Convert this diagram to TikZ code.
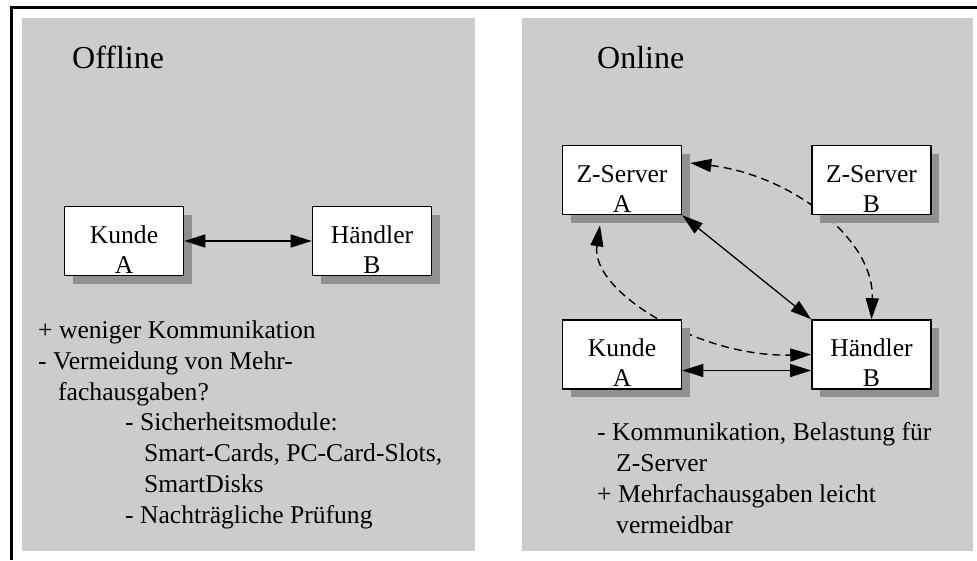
\documentclass[tikz,border=0pt]{standalone}
\usepackage{fontspec}
\setmainfont{Liberation Serif}
\usetikzlibrary{arrows.meta, shadows}

\definecolor{panelgray}{HTML}{CCCCCC}
\definecolor{shadowgray}{HTML}{909090}

\pgfdeclarelayer{background}
\pgfsetlayers{background,main}

\begin{document}
\begin{tikzpicture}[x=1pt, y=-1pt]
\tikzstyle{box} = [draw, line width=1.6pt, fill=white, minimum width=119pt, minimum height=69pt, inner sep=0pt, align=center, font=\fontsize{25.6}{30}\selectfont, text height=64pt, text depth=0pt, drop shadow={shadow xshift=8pt, shadow yshift=-8pt, fill=shadowgray, opacity=1}]
\tikzstyle{arrow} = [line width=1.3pt, {Triangle[length=21pt,width=13pt]}-{Triangle[length=21pt,width=13pt]}]
\tikzstyle{dasharrow} = [arrow, line width=1.4pt, dash pattern=on 8pt off 5pt]
\tikzstyle{title} = [anchor=base west, inner sep=0pt, font=\fontsize{32}{38}\selectfont]
\tikzstyle{remarks} = [anchor=north west, inner sep=0pt, align=left, font=\fontsize{25.6}{30.8}\selectfont]

\useasboundingbox (0,0) rectangle (977,560);

%Offline: customer and merchant only
\node[title] (offline) at (72,68) {Offline};
\node[box] (kundeL) at (124,241) {Kunde\\A};
\node[box] (haendlerL) at (372,241) {Händler\\B};
\draw[arrow] (kundeL) -- (haendlerL);
\node[remarks] (notesL) at (38,320.5) {+ weniger Kommunikation\\
 - Vermeidung von Mehr-\\
 \hspace*{20pt}fachausgaben?\\
 \hspace*{87pt}- Sicherheitsmodule:\\
 \hspace*{106pt}Smart-Cards, PC-Card-Slots,\\
 \hspace*{106pt}SmartDisks\\
 \hspace*{87pt}- Nachträgliche Prüfung};

%Online: both parties talk to the Z-Servers
\node[title] (online) at (597,68) {Online};
\node[box] (zserverA) at (622,180) {Z-Server\\A};
\node[box] (zserverB) at (871.5,180) {Z-Server\\B};
\node[box] (kundeR) at (622,354.5) {Kunde\\A};
\node[box] (haendlerR) at (871.5,354.5) {Händler\\B};
\draw[arrow] (zserverA.south east) -- (haendlerR.north west);
\draw[arrow] ([yshift=-16pt]kundeR.east) -- ([yshift=-16pt]haendlerR.west);
\node[remarks] (notesR) at (597,422.5) {- Kommunikation, Belastung für\\
 \hspace*{19pt}Z-Server\\
 + Mehrfachausgaben leicht\\
 \hspace*{19pt}vermeidbar};

%frame, panels and the dashed curves go behind the boxes
\begin{pgfonlayer}{background}
 \draw[line width=3pt] (11.5,560) -- (11.5,7.5) -- (977,7.5);
 \fill[panelgray] (22,18) rectangle (475,551);
 \fill[panelgray] (522,18) rectangle (973,551);
 \draw[dasharrow] ([xshift=8pt,yshift=17pt]zserverA.east) .. controls +(100,12) and +(3,-81) .. (haendlerR.north);
 \draw[dasharrow] ([xshift=-22pt,yshift=-10pt]zserverA.south) .. controls +(-10,66) and +(-112,3) .. (haendlerR.west);
\end{pgfonlayer}

\end{tikzpicture}
\end{document}
